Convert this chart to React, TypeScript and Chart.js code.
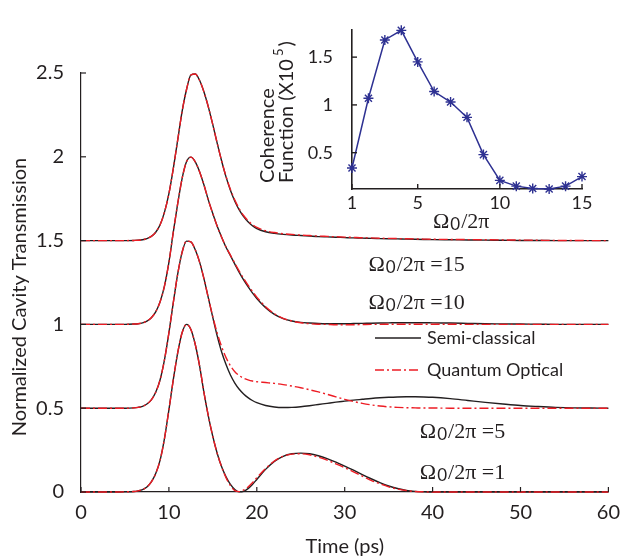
import React, { useEffect, useRef } from "react";
import { Chart, registerables } from "chart.js";

Chart.register(...registerables);

// ---------- data (main panel) ----------
const timePs = [0, 2, 4, 5, 6, 6.5, 7, 7.5, 8, 8.5, 9, 9.5, 10, 10.5, 11, 11.5, 12, 12.5, 13, 13.5, 14, 14.5, 15, 15.5, 16, 16.5, 17, 17.5, 18, 18.5, 19, 19.5, 20, 21, 22, 23, 24, 25, 26, 27, 28, 29, 30, 31, 32, 33, 34, 35, 36, 37, 38, 39, 40, 42, 44, 46, 48, 50, 52, 54, 56, 58, 60];

const semiOmega1 = [0, 0, 0, 0.001, 0.003, 0.007, 0.014, 0.03, 0.06, 0.11, 0.19, 0.32, 0.49, 0.67, 0.83, 0.95, 1.0, 0.97, 0.88, 0.75, 0.59, 0.45, 0.33, 0.23, 0.15, 0.09, 0.045, 0.015, 0.001, 0.004, 0.02, 0.045, 0.075, 0.135, 0.183, 0.213, 0.228, 0.232, 0.228, 0.216, 0.199, 0.178, 0.155, 0.13, 0.104, 0.079, 0.056, 0.036, 0.021, 0.01, 0.004, 0.001, 0, 0, 0, 0, 0, 0, 0, 0, 0, 0, 0];
const quantumOmega1 = [0, 0, 0, 0.001, 0.003, 0.007, 0.014, 0.03, 0.06, 0.11, 0.19, 0.32, 0.49, 0.67, 0.83, 0.95, 1.0, 0.97, 0.88, 0.75, 0.59, 0.45, 0.33, 0.23, 0.15, 0.085, 0.038, 0.008, 0.002, 0.012, 0.03, 0.055, 0.085, 0.14, 0.185, 0.213, 0.226, 0.228, 0.222, 0.208, 0.19, 0.168, 0.145, 0.12, 0.095, 0.07, 0.049, 0.031, 0.018, 0.009, 0.003, 0.001, 0, 0, 0, 0, 0, 0, 0, 0, 0, 0, 0];

const semiOmega5 = [0.5, 0.5, 0.5, 0.5, 0.502, 0.505, 0.511, 0.525, 0.55, 0.595, 0.67, 0.79, 0.95, 1.13, 1.3, 1.43, 1.497, 1.493, 1.445, 1.37, 1.27, 1.155, 1.04, 0.93, 0.835, 0.76, 0.698, 0.65, 0.613, 0.585, 0.563, 0.546, 0.533, 0.516, 0.507, 0.504, 0.505, 0.509, 0.515, 0.522, 0.529, 0.536, 0.542, 0.548, 0.553, 0.558, 0.562, 0.565, 0.567, 0.568, 0.568, 0.567, 0.565, 0.557, 0.546, 0.535, 0.525, 0.516, 0.51, 0.505, 0.502, 0.501, 0.5];
const quantumOmega5 = [0.5, 0.5, 0.5, 0.5, 0.502, 0.505, 0.511, 0.525, 0.55, 0.595, 0.67, 0.79, 0.95, 1.13, 1.3, 1.43, 1.497, 1.493, 1.445, 1.37, 1.27, 1.155, 1.045, 0.948, 0.867, 0.802, 0.753, 0.718, 0.695, 0.679, 0.669, 0.662, 0.658, 0.653, 0.648, 0.641, 0.632, 0.622, 0.61, 0.597, 0.583, 0.568, 0.553, 0.54, 0.529, 0.52, 0.513, 0.508, 0.505, 0.503, 0.502, 0.501, 0.501, 0.5, 0.5, 0.5, 0.5, 0.5, 0.5, 0.5, 0.5, 0.5, 0.5];

const semiOmega10 = [1, 1, 1, 1, 1.002, 1.004, 1.009, 1.02, 1.04, 1.075, 1.135, 1.23, 1.37, 1.55, 1.72, 1.87, 1.97, 1.998, 1.97, 1.91, 1.83, 1.74, 1.66, 1.585, 1.52, 1.46, 1.41, 1.36, 1.31, 1.265, 1.225, 1.188, 1.155, 1.1, 1.06, 1.035, 1.02, 1.012, 1.008, 1.005, 1.004, 1.004, 1.004, 1.005, 1.006, 1.007, 1.008, 1.009, 1.01, 1.01, 1.01, 1.01, 1.009, 1.008, 1.006, 1.004, 1.003, 1.002, 1.001, 1, 1, 1, 1];
const quantumOmega10 = [1, 1, 1, 1, 1.002, 1.004, 1.009, 1.02, 1.04, 1.075, 1.135, 1.23, 1.37, 1.55, 1.72, 1.87, 1.97, 1.998, 1.97, 1.91, 1.83, 1.74, 1.66, 1.585, 1.52, 1.462, 1.413, 1.365, 1.318, 1.274, 1.234, 1.197, 1.163, 1.106, 1.064, 1.036, 1.02, 1.01, 1.004, 1.001, 1.0, 0.998, 0.998, 0.998, 0.999, 1, 1, 1.001, 1.001, 1.001, 1.001, 1.001, 1.001, 1.001, 1, 1, 1, 1, 1, 1, 1, 1, 1];

const semiOmega15 = [1.5, 1.5, 1.5, 1.5, 1.501, 1.502, 1.505, 1.512, 1.525, 1.55, 1.595, 1.67, 1.78, 1.93, 2.1, 2.27, 2.4, 2.488, 2.494, 2.455, 2.385, 2.295, 2.19, 2.08, 1.975, 1.88, 1.8, 1.735, 1.683, 1.643, 1.612, 1.589, 1.572, 1.553, 1.543, 1.537, 1.533, 1.53, 1.527, 1.524, 1.522, 1.52, 1.518, 1.516, 1.515, 1.513, 1.512, 1.511, 1.51, 1.509, 1.508, 1.507, 1.506, 1.505, 1.504, 1.503, 1.502, 1.501, 1.501, 1.5, 1.5, 1.5, 1.5];
const quantumOmega15 = [1.5, 1.5, 1.5, 1.5, 1.501, 1.502, 1.505, 1.512, 1.525, 1.55, 1.595, 1.67, 1.78, 1.93, 2.1, 2.27, 2.4, 2.488, 2.494, 2.455, 2.385, 2.295, 2.19, 2.08, 1.975, 1.883, 1.805, 1.742, 1.69, 1.65, 1.619, 1.596, 1.579, 1.559, 1.548, 1.541, 1.537, 1.533, 1.53, 1.527, 1.525, 1.523, 1.521, 1.519, 1.517, 1.516, 1.514, 1.513, 1.512, 1.511, 1.51, 1.509, 1.508, 1.507, 1.506, 1.505, 1.504, 1.503, 1.502, 1.501, 1.501, 1.5, 1.5];

const mainXTicks = [0, 10, 20, 30, 40, 50, 60];
const mainYTicks = [0, 0.5, 1, 1.5, 2, 2.5];

const seriesLabels = ["Semi-classical", "Quantum Optical"];
const omegaLabelSuffixes = ["/2π =15", "/2π =10", "/2π =5", "/2π =1"];

// ---------- data (inset) ----------
const omegaOver2Pi = [1, 2, 3, 4, 5, 6, 7, 8, 9, 10, 11, 12, 13, 14, 15];
const coherence = [0.34, 1.07, 1.68, 1.78, 1.45, 1.14, 1.03, 0.87, 0.48, 0.21, 0.15, 0.125, 0.12, 0.15, 0.25];
const insetXTicks = [1, 5, 10, 15];
const insetYTicks = [0.5, 1, 1.5];

// ---------- styles ----------
const INK = "#231F20";
const RED = "#ED1C24";
const BLUE = "#2E3192";
const SANS = 'Lato, "Open Sans", "DejaVu Sans", sans-serif';
const SERIF = '"Liberation Serif", "DejaVu Serif", serif';
const DASH_DOT = [9, 3, 2, 3];

function line(ctx: CanvasRenderingContext2D, x1: number, y1: number, x2: number, y2: number) {
  ctx.beginPath();
  ctx.moveTo(x1, y1);
  ctx.lineTo(x2, y2);
  ctx.stroke();
}

function drawOmega(ctx: CanvasRenderingContext2D, x: number, y: number, suffix: string, size: number) {
  ctx.textAlign = "left";
  ctx.textBaseline = "alphabetic";
  ctx.fillStyle = INK;
  ctx.font = `${size}px ${SERIF}`;
  ctx.fillText("Ω", x, y);
  let cx = x + ctx.measureText("Ω").width + 1;
  ctx.font = `${Math.round(size * 0.75)}px ${SANS}`;
  ctx.fillText("0", cx, y + 2);
  cx += ctx.measureText("0").width + 1;
  ctx.font = `${size}px ${SERIF}`;
  ctx.fillText(suffix, cx, y);
}

function inwardTicks(chart: any, len: number, width: number) {
  const { ctx, chartArea, scales } = chart;
  const { x, y } = scales;
  ctx.save();
  ctx.strokeStyle = INK;
  ctx.lineWidth = width;
  x.ticks.forEach((t: any) => {
    const px = x.getPixelForValue(t.value);
    line(ctx, px, chartArea.bottom, px, chartArea.bottom - len);
  });
  y.ticks.forEach((t: any) => {
    const py = y.getPixelForValue(t.value);
    line(ctx, chartArea.left, py, chartArea.left + len, py);
  });
  ctx.restore();
}

const plainLabel = (v: any) => String(Number(v));

const mainDecor = {
  id: "mainDecor",
  afterDraw(chart: any) {
    const { ctx, chartArea, scales } = chart;
    const { x, y } = scales;
    inwardTicks(chart, 5, 1.2);
    ctx.save();
    ctx.fillStyle = INK;
    // axis titles
    ctx.font = `20px ${SANS}`;
    ctx.textAlign = "center";
    ctx.textBaseline = "middle";
    ctx.fillText("Time (ps)", (chartArea.left + chartArea.right) / 2, 547);
    ctx.save();
    ctx.translate(20, 297);
    ctx.rotate(-Math.PI / 2);
    ctx.fillText("Normalized Cavity Transmission", 0, 0);
    ctx.restore();

    // curve labels
    const anchors = [
      { t: 32.7, v: 1.32 },
      { t: 32.7, v: 1.094 },
      { t: 38.55, v: 0.324 },
      { t: 38.55, v: 0.079 },
    ];
    anchors.forEach((a, i) => {
      drawOmega(ctx, x.getPixelForValue(a.t), y.getPixelForValue(a.v), omegaLabelSuffixes[i], 22);
    });

    // legend
    const lx0 = 375, lx1 = 421, ly0 = 338, ly1 = 370;
    ctx.lineWidth = 1.4;
    ctx.strokeStyle = INK;
    line(ctx, lx0, ly0, lx1, ly0);
    ctx.strokeStyle = RED;
    ctx.setLineDash(DASH_DOT);
    line(ctx, lx0, ly1, lx1, ly1);
    ctx.setLineDash([]);
    ctx.fillStyle = INK;
    ctx.font = `18px ${SANS}`;
    ctx.textAlign = "left";
    ctx.textBaseline = "middle";
    ctx.fillText(seriesLabels[0], 427, ly0);
    ctx.fillText(seriesLabels[1], 427, ly1);
    ctx.restore();
  },
};

const insetDecor = {
  id: "insetDecor",
  afterDraw(chart: any) {
    const { ctx } = chart;
    inwardTicks(chart, 5, 1.4);
    ctx.save();
    ctx.fillStyle = INK;
    // y title: two lines, rotated, bottom aligned
    ctx.save();
    ctx.translate(268, 183);
    ctx.rotate(-Math.PI / 2);
    ctx.textAlign = "left";
    ctx.textBaseline = "middle";
    ctx.font = `20px ${SANS}`;
    ctx.fillText("Coherence", 0, 0);
    const l2 = "Function (X10";
    ctx.fillText(l2, 0, 19);
    let w = ctx.measureText(l2).width + 3;
    ctx.font = `13px ${SANS}`;
    ctx.fillText("5", w, 19 - 8);
    w += ctx.measureText("5").width + 2;
    ctx.font = `20px ${SANS}`;
    ctx.fillText(")", w, 19);
    ctx.restore();
    // x title
    drawOmega(ctx, 433, 228, "/2π", 22);
    ctx.restore();
  },
};

const App: React.FC = () => {
  const mainRef = useRef<HTMLCanvasElement | null>(null);
  const insetRef = useRef<HTMLCanvasElement | null>(null);

  useEffect(() => {
    document.body.style.margin = "0";
    const pts = (ys: number[]) => timePs.map((t, i) => ({ x: t, y: ys[i] }));
    const semi = [semiOmega1, semiOmega5, semiOmega10, semiOmega15];
    const quantum = [quantumOmega1, quantumOmega5, quantumOmega10, quantumOmega15];
    const datasets: any[] = [];
    quantum.forEach((q) =>
      datasets.push({
        label: seriesLabels[1],
        data: pts(q),
        borderColor: RED,
        borderWidth: 1.4,
        borderDash: DASH_DOT,
        pointRadius: 0,
        cubicInterpolationMode: "monotone",
        clip: 8,
        order: 0,
      })
    );
    semi.forEach((s) =>
      datasets.push({
        label: seriesLabels[0],
        data: pts(s),
        borderColor: INK,
        borderWidth: 1.4,
        pointRadius: 0,
        cubicInterpolationMode: "monotone",
        clip: 8,
        order: 1,
      })
    );

    const tickFont = { family: SANS, size: 20 };
    const main = new Chart(mainRef.current as HTMLCanvasElement, {
      type: "line",
      data: { datasets },
      options: {
        responsive: false,
        animation: false,
        events: [],
        layout: { padding: { top: 73, right: 17, left: 0, bottom: 0 } },
        plugins: { legend: { display: false }, tooltip: { enabled: false } },
        scales: {
          x: {
            type: "linear",
            min: 0,
            max: 60,
            afterBuildTicks: (s: any) => {
              s.ticks = mainXTicks.map((v) => ({ value: v }));
            },
            ticks: { font: tickFont, color: INK, padding: 9, maxRotation: 0, callback: plainLabel },
            grid: { display: false, drawTicks: false },
            border: { display: true, color: INK, width: 1.2 },
            afterFit: (s: any) => {
              s.height = 64;
            },
          },
          y: {
            type: "linear",
            min: 0,
            max: 2.5,
            afterBuildTicks: (s: any) => {
              s.ticks = mainYTicks.map((v) => ({ value: v }));
            },
            ticks: { font: tickFont, color: INK, padding: 17, callback: plainLabel },
            grid: { display: false, drawTicks: false },
            border: { display: true, color: INK, width: 1.2 },
            afterFit: (s: any) => {
              s.width = 81;
            },
          },
        },
      } as any,
      plugins: [mainDecor],
    });

    const inset = new Chart(insetRef.current as HTMLCanvasElement, {
      type: "line",
      data: {
        datasets: [
          {
            data: omegaOver2Pi.map((o, i) => ({ x: o, y: coherence[i] })),
            borderColor: BLUE,
            borderWidth: 1.5,
            pointStyle: "star",
            pointRadius: 5,
            pointBorderColor: BLUE,
            pointBorderWidth: 1.4,
            pointBackgroundColor: BLUE,
            clip: 10,
          } as any,
        ],
      },
      options: {
        responsive: false,
        animation: false,
        events: [],
        layout: { padding: { top: 13, right: 47, left: 292, bottom: 326 } },
        plugins: { legend: { display: false }, tooltip: { enabled: false } },
        scales: {
          x: {
            type: "linear",
            min: 1,
            max: 15,
            afterBuildTicks: (s: any) => {
              s.ticks = insetXTicks.map((v) => ({ value: v }));
            },
            ticks: { font: { family: SANS, size: 18 }, color: INK, padding: 3, maxRotation: 0, callback: plainLabel },
            grid: { display: false, drawTicks: false },
            border: { display: true, color: INK, width: 1.6 },
            afterFit: (s: any) => {
              s.height = 41;
            },
          },
          y: {
            type: "linear",
            min: 0.12,
            max: 1.786,
            afterBuildTicks: (s: any) => {
              s.ticks = insetYTicks.map((v) => ({ value: v }));
            },
            ticks: { font: { family: SANS, size: 18 }, color: INK, padding: 19, callback: plainLabel },
            grid: { display: false, drawTicks: false },
            border: { display: true, color: INK, width: 1.6 },
            afterFit: (s: any) => {
              s.width = 60;
            },
          },
        },
      } as any,
      plugins: [insetDecor],
    });

    return () => {
      main.destroy();
      inset.destroy();
    };
  }, []);

  return (
    <div style={{ position: "relative", width: 629, height: 556, background: "#fff" }}>
      <canvas ref={mainRef} width={629} height={556} style={{ position: "absolute", left: 0, top: 0 }} />
      <canvas ref={insetRef} width={629} height={556} style={{ position: "absolute", left: 0, top: 0 }} />
    </div>
  );
};

export default App;
